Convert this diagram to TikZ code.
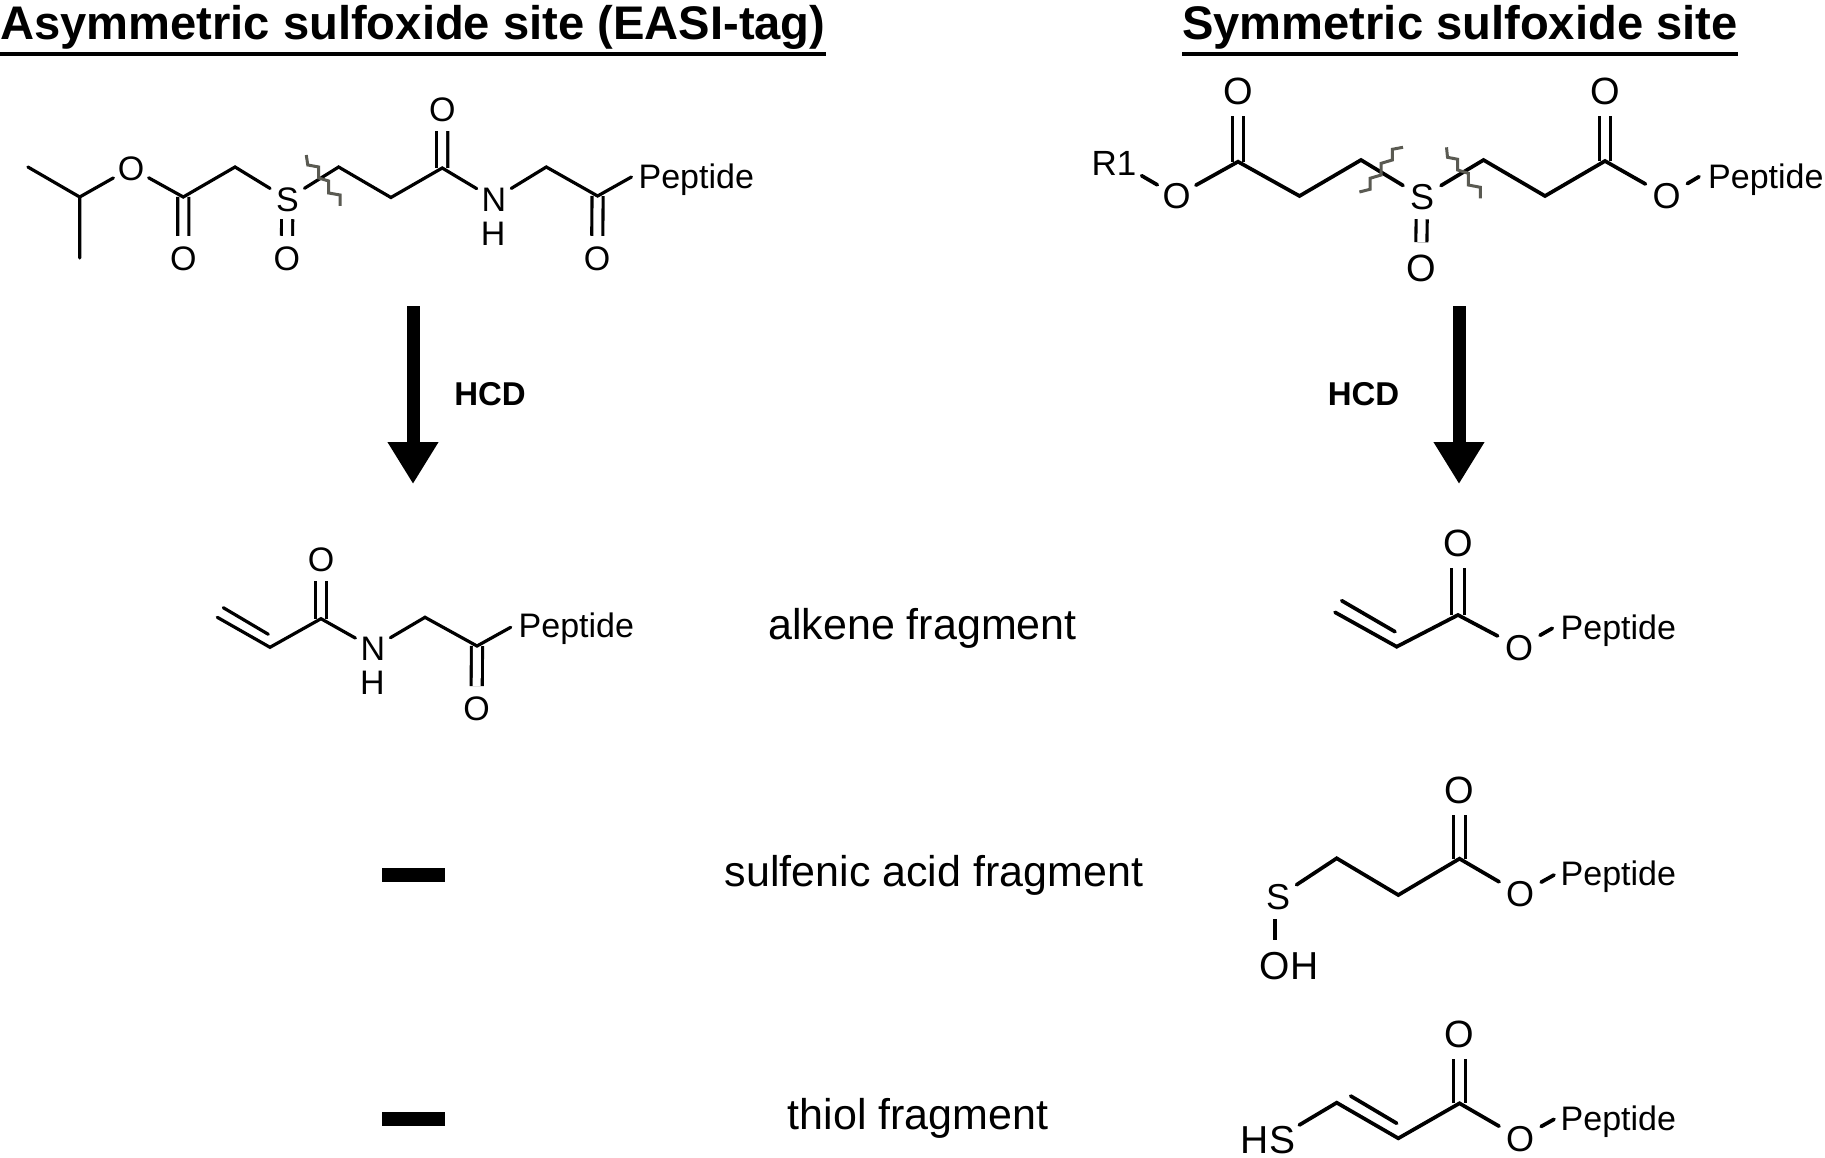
\documentclass[tikz,border=0pt]{standalone}
\usepackage{fontspec}
\setmainfont{Liberation Sans}
\usetikzlibrary{arrows.meta}
\newcommand{\fs}[1]{\fontsize{#1}{#1}\selectfont}
\newcommand{\atomtxt}[1]{\smash{\makebox[0pt]{\raisebox{-.358em}{#1}}}}
\newcommand{\ulbox}[1]{\vtop{\hbox{#1}\kern 2.5pt\hrule height 4pt}}
\definecolor{cutgrey}{HTML}{5A5A52}
\tikzset{
  bond/.style={line width=3.2pt,line join=miter,line cap=round,black},
  bondR/.style={bond,line width=3.7pt},
  dbl/.style={line width=3.1pt,double,double distance=#1},
  dbl/.default=8pt,
  cut/.style={line width=3pt,draw=cutgrey,line join=miter},
  atom/.style={circle,inner sep=0pt,minimum size=#1,font=\fs{34}},
  atom/.default=40pt,
  atomR/.style={circle,inner sep=0pt,minimum size=48pt,font=\fs{36}},
  atomT/.style={circle,inner sep=0pt,minimum size=50pt,font=\fs{38}},
  pep/.style={anchor=base west,inner sep=0pt,font=\fs{34}},
  lbl/.style={inner sep=0pt,font=\fs{34}},
  title/.style={anchor=base west,inner sep=0pt,font=\bfseries\fs{47.15}},
  frag/.style={anchor=base,inner sep=0pt,font=\fs{43}},
  hcd/.style={inner sep=0pt,font=\bfseries\fs{33}},
  rxn/.style={line width=13pt,-{Triangle[length=42pt,width=48pt]}},
  minusbar/.style={fill=black,draw=none}
}
\begin{document}
\begin{tikzpicture}[x=1pt,y=-1pt]
\useasboundingbox (0,0) rectangle (1825,1158);
\fill[white] (0,0) rectangle (1825,1158);
% titles
\node[title] (t1) at (0,40) {\ulbox{Asymmetric sulfoxide site (EASI-tag)}};
\node[title] (t2) at (1182,40) {\ulbox{Symmetric sulfoxide site}};
% ---------- molecule A
\begin{scope}[xscale=.996]
\coordinate (a1) at (28,167);
\coordinate (a2) at (80,197);
\coordinate (a3) at (80,258);
\node[atom] (aO1) at (131.5,168) {\atomtxt{O}};
\coordinate (aC1) at (184,197);
\node[atom=44pt] (aO2) at (184,258) {\atomtxt{O}};
\coordinate (a4) at (236,167);
\node[atom] (aS) at (288.5,199) {\atomtxt{S}};
\node[atom=44pt] (aO3) at (288,258) {\atomtxt{O}};
\coordinate (a5) at (340,167);
\coordinate (a6) at (392.5,197.5);
\coordinate (aC2) at (444,168);
\node[atom=44pt] (aO4) at (444,109) {\atomtxt{O}};
\node[atom] (aN) at (496,199) {\atomtxt{N}};
\node[lbl] (aH) at (495,234) {H};
\coordinate (a7) at (548.5,167);
\coordinate (aC3) at (600,196);
\node[atom=44pt] (aO5) at (599.5,258) {\atomtxt{O}};
\coordinate (a8) at (634,177);
\node[pep] (aP) at (641,189) {Peptide};
\draw[dbl] (aC1) -- (aO2);
\draw[dbl] (aS) -- (aO3);
\draw[dbl] (aC2) -- (aO4);
\draw[dbl] (aC3) -- (aO5);
\draw[bond] (a1) -- (a2) -- (a3);
\draw[bond] (a2) -- (aO1) -- (aC1) -- (a4) -- (aS) -- (a5) -- (a6) -- (aC2) -- (aN) -- (a7) -- (aC3) -- (a8);
\draw[cut] (307.5,155) -- (309,165) -- (320,167) -- (320,178) -- (330,181) -- (330,193) -- (341.5,195) -- (341.5,206);
\end{scope}
% ---------- molecule B
\node[lbl,font=\fs{35}] (bR) at (1114,163.5) {R1};
\coordinate (bR1) at (1141.6,175.7);
\node[atomR,minimum size=44pt] (bO1) at (1176.5,196) {\atomtxt{O}};
\coordinate (bC1) at (1238,161.7);
\node[atomT] (bO2) at (1238,90.5) {\atomtxt{O}};
\coordinate (b1) at (1299.5,196);
\coordinate (b2) at (1361,160);
\node[atomR,minimum size=44pt] (bS) at (1422,197) {\atomtxt{S}};
\node[atomT] (bO3) at (1421,267.5) {\atomtxt{O}};
\coordinate (b3) at (1483.5,160);
\coordinate (b4) at (1545,196);
\coordinate (bC2) at (1605,161);
\node[atomT] (bO4) at (1605,90.5) {\atomtxt{O}};
\node[atomR] (bO5) at (1666.5,196) {\atomtxt{O}};
\coordinate (b5) at (1699,176.7);
\node[pep] (bP) at (1708,189) {Peptide};
\draw[dbl] (bC1) -- (bO2);
\draw[dbl] (bS) -- (bO3);
\draw[dbl] (bC2) -- (bO4);
\draw[bondR] (bR1) -- (bO1) -- (bC1) -- (b1) -- (b2) -- (bS) -- (b3) -- (b4) -- (bC2) -- (bO5) -- (b5);
\draw[cut] (1403,147.3) -- (1392.3,149.3) -- (1392.3,160) -- (1381.2,163.3) -- (1381.2,175) -- (1370,178.3) -- (1370,189.3) -- (1359.4,192);
\draw[cut] (1446.5,147.3) -- (1447.5,157.3) -- (1457.7,159.3) -- (1457.7,170) -- (1468.3,173.3) -- (1468.3,185) -- (1480.4,187.3) -- (1480.4,198.3);
% ---------- arrows
\coordinate (arA0) at (413,306);
\coordinate (arA1) at (413,484);
\coordinate (arB0) at (1459,306);
\coordinate (arB1) at (1459,484);
\draw[rxn] (arA0) -- (arA1);
\draw[rxn] (arB0) -- (arB1);
\node[hcd] (h1) at (490,394.5) {HCD};
\node[hcd] (h2) at (1363.5,394.5) {HCD};
% ---------- alkene left
\coordinate (c1) at (217.3,617.3);
\coordinate (c2) at (270,647.3);
\coordinate (c1b) at (223.3,607.7);
\coordinate (c2b) at (268.3,634.3);
\coordinate (cC1) at (321,618.7);
\node[atom=44pt] (cO1) at (321,559) {\atomtxt{O}};
\node[atom] (cN) at (373,648) {\atomtxt{N}};
\node[lbl] (cH) at (372.3,682.3) {H};
\coordinate (c3) at (425,617.3);
\coordinate (cC2) at (477,646);
\node[atom=44pt] (cO2) at (476.5,708.3) {\atomtxt{O}};
\coordinate (c4) at (510.7,627.3);
\node[pep] (cP) at (518.5,637) {Peptide};
\draw[dbl] (cC1) -- (cO1);
\draw[dbl] (cC2) -- (cO2);
\draw[bond] (c1) -- (c2) -- (cC1) -- (cN) -- (c3) -- (cC2) -- (c4);
\draw[bond] (c1b) -- (c2b);
% ---------- alkene right
\coordinate (d1) at (1335,612.3);
\coordinate (d2) at (1396.7,646.7);
\coordinate (d1b) at (1341.7,600.7);
\coordinate (d2b) at (1395,631.7);
\coordinate (dC) at (1458,615);
\node[atomT] (dO1) at (1458,542.5) {\atomtxt{O}};
\node[atomR] (dO2) at (1519,647.3) {\atomtxt{O}};
\coordinate (d3) at (1552.3,628.3);
\node[pep] (dP) at (1560.5,639) {Peptide};
\draw[dbl=9.5pt] (dC) -- (dO1);
\draw[bondR] (d1) -- (d2) -- (dC) -- (dO2) -- (d3);
\draw[bondR] (d1b) -- (d2b);
% ---------- sulfenic acid
\node[atomT] (eO1) at (1459.5,790) {\atomtxt{O}};
\coordinate (eC) at (1459.5,858.7);
\node[atomR] (eO2) at (1520,894) {\atomtxt{O}};
\coordinate (e3) at (1554,875);
\node[pep] (eP) at (1560.5,885) {Peptide};
\coordinate (e1) at (1398.3,895);
\coordinate (e2) at (1336.7,858.3);
\node[atomR,minimum size=44pt] (eS) at (1278,897) {\atomtxt{S}};
\coordinate (eSd) at (1275,919.3);
\coordinate (eOHe) at (1275,940);
\node[lbl,font=\fs{39}] (eOH) at (1289,965.7) {OH};
\draw[dbl=9.5pt] (eC) -- (eO1);
\draw[bondR] (eO2) -- (eC) -- (e1) -- (e2) -- (eS);
\draw[bondR] (eO2) -- (e3);
\draw[bondR,line cap=butt] (eSd) -- (eOHe);
% ---------- thiol
\node[atomT] (fO1) at (1459.5,1034) {\atomtxt{O}};
\coordinate (fC) at (1459.5,1103.3);
\node[atomR] (fO2) at (1520,1138.3) {\atomtxt{O}};
\coordinate (f3) at (1554,1119.3);
\node[pep] (fP) at (1560.5,1130) {Peptide};
\coordinate (f1) at (1398.3,1138.3);
\coordinate (f2) at (1336.7,1102.7);
\coordinate (f1b) at (1396.7,1123.3);
\coordinate (f2b) at (1350.7,1096);
\coordinate (f4) at (1299.3,1125);
\node[lbl,font=\fs{39}] (fHS) at (1268,1140) {HS};
\draw[dbl=9.5pt] (fC) -- (fO1);
\draw[bondR] (fO2) -- (fC) -- (f1) -- (f2) -- (f4);
\draw[bondR] (fO2) -- (f3);
\draw[bondR] (f1b) -- (f2b);
% ---------- fragment labels
\node[frag] (l1) at (922.5,639) {alkene fragment};
\node[frag] (l2) at (934,886) {sulfenic acid fragment};
\node[frag] (l3) at (918,1129) {thiol fragment};
\node[minusbar,minimum width=63pt,minimum height=14pt,inner sep=0pt] (m1) at (413.5,874.5) {};
\node[minusbar,minimum width=63pt,minimum height=14pt,inner sep=0pt] (m2) at (413.5,1119) {};
\end{tikzpicture}
\end{document}
